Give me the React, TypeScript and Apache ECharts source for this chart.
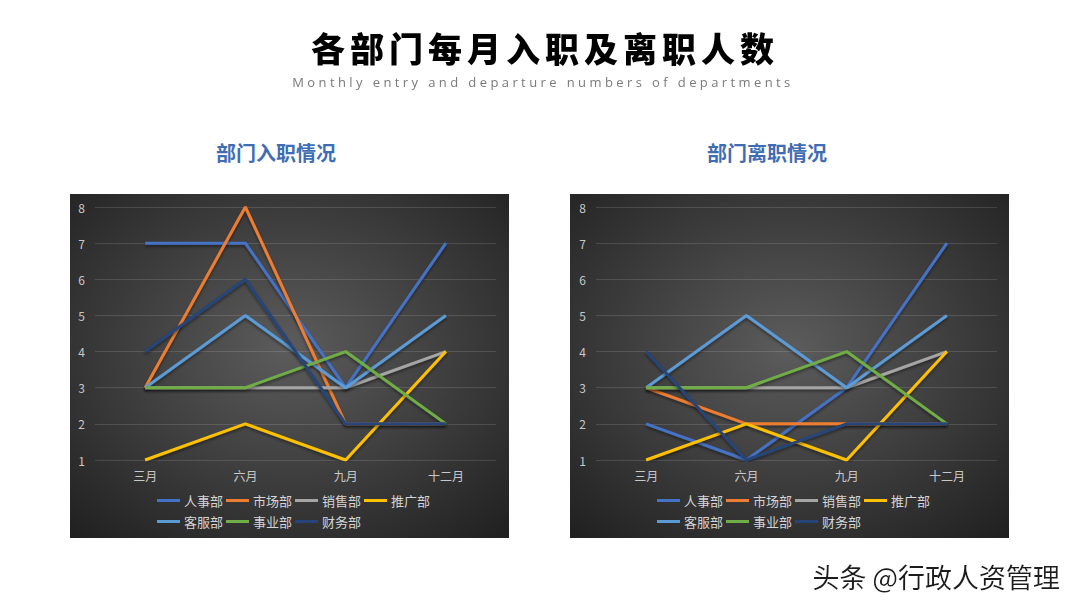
import React, { useEffect, useRef } from "react";
import * as echarts from "echarts";

const months = ["三月", "六月", "九月", "十二月"];
const departments = ["人事部", "市场部", "销售部", "推广部", "客服部", "事业部", "财务部"];
const colors = ["#4472C4", "#ED7D31", "#A5A5A5", "#FFC000", "#5B9BD5", "#70AD47", "#264478"];

// 入职 (entry)
const entryHR = [7, 7, 3, 7];
const entryMarket = [3, 8, 2, 2];
const entrySales = [3, 3, 3, 4];
const entryPromo = [1, 2, 1, 4];
const entryService = [3, 5, 3, 5];
const entryBusiness = [3, 3, 4, 2];
const entryFinance = [4, 6, 2, 2];

// 离职 (departure)
const leaveHR = [2, 1, 3, 7];
const leaveMarket = [3, 2, 2, 2];
const leaveSales = [3, 3, 3, 4];
const leavePromo = [1, 2, 1, 4];
const leaveService = [3, 5, 3, 5];
const leaveBusiness = [3, 3, 4, 2];
const leaveFinance = [4, 1, 2, 2];

const entryData = [entryHR, entryMarket, entrySales, entryPromo, entryService, entryBusiness, entryFinance];
const leaveData = [leaveHR, leaveMarket, leaveSales, leavePromo, leaveService, leaveBusiness, leaveFinance];

const FONT = "'Noto Sans CJK SC', 'Noto Sans', sans-serif";

export default function App() {
  const ref = useRef<HTMLDivElement>(null);

  useEffect(() => {
    if (!ref.current) return;
    const chart = echarts.init(ref.current, undefined, { renderer: "svg" });

    const mkBg = () =>
      new echarts.graphic.RadialGradient(0.5, 0.45, 0.75, [
        { offset: 0, color: "#5c5c5c" },
        { offset: 1, color: "#1f1f1f" },
      ]);

    const grids = [
      { left: 95, top: 207, width: 401, height: 253 },
      { left: 596, top: 207, width: 401, height: 253 },
    ];

    const xAxes = grids.map((_, i) => ({
      type: "category",
      gridIndex: i,
      data: months,
      boundaryGap: true,
      axisLine: { show: false },
      axisTick: { show: false },
      axisLabel: { color: "#c8c8c8", fontSize: 12, margin: 9, fontFamily: FONT },
    }));
    const yAxes = grids.map((_, i) => ({
      type: "value",
      gridIndex: i,
      min: 1,
      max: 8,
      interval: 1,
      axisLine: { show: false },
      axisTick: { show: false },
      axisLabel: { color: "#c8c8c8", fontSize: 12, margin: 10, fontFamily: FONT },
      splitLine: { lineStyle: { color: "rgba(255,255,255,0.13)", width: 1 } },
    }));

    const mkSeries = (data: number[][], gi: number) =>
      departments.map((name, k) => ({
        type: "line",
        name,
        xAxisIndex: gi,
        yAxisIndex: gi,
        data: data[k],
        showSymbol: false,
        symbol: "none",
        lineStyle: {
          width: 3,
          color: colors[k],
          shadowColor: "rgba(0,0,0,0.45)",
          shadowBlur: 3,
          shadowOffsetY: 2,
        },
        itemStyle: { color: colors[k] },
        z: 2 + k,
      }));

    const legendBase = {
      icon: "rect",
      itemWidth: 23,
      itemHeight: 3,
      itemGap: 3,
      selectedMode: false,
      orient: "horizontal",
      textStyle: { color: "#d4d4d4", fontSize: 13, fontFamily: FONT, padding: [0, 0, 0, -1] },
      padding: 0,
    };

    chart.setOption({
      animation: false,
      color: colors,
      textStyle: { fontFamily: FONT },
      grid: grids,
      xAxis: xAxes,
      yAxis: yAxes,
      legend: [
        { ...legendBase, left: 157, top: 494, data: departments.slice(0, 4) },
        { ...legendBase, left: 157, top: 515, data: departments.slice(4) },
        { ...legendBase, left: 657, top: 494, data: departments.slice(0, 4) },
        { ...legendBase, left: 657, top: 515, data: departments.slice(4) },
      ],
      graphic: [
        {
          type: "rect",
          left: 70,
          top: 194,
          shape: { width: 439, height: 344 },
          style: { fill: mkBg() },
          z: -10,
          silent: true,
        },
        {
          type: "rect",
          left: 570,
          top: 194,
          shape: { width: 439, height: 344 },
          style: { fill: mkBg() },
          z: -10,
          silent: true,
        },
        {
          type: "text",
          x: 276,
          y: 152,
          style: {
            text: "部门入职情况",
            fill: "#3F6DB3",
            font: `bold 20px ${FONT}`,
            align: "center",
            verticalAlign: "middle",
          },
        },
        {
          type: "text",
          x: 767,
          y: 152,
          style: {
            text: "部门离职情况",
            fill: "#3F6DB3",
            font: `bold 20px ${FONT}`,
            align: "center",
            verticalAlign: "middle",
          },
        },
        {
          type: "text",
          x: 1060,
          y: 576,
          style: {
            text: "头条 @行政人资管理",
            fill: "#1a1a1a",
            font: `27px ${FONT}`,
            align: "right",
            verticalAlign: "middle",
            textShadowColor: "rgba(255,255,255,0.9)",
            textShadowBlur: 1,
            textShadowOffsetX: 1,
            textShadowOffsetY: 1,
          },
        },
      ],
      series: [...mkSeries(entryData, 0), ...mkSeries(leaveData, 1)],
    });

    return () => chart.dispose();
  }, []);

  return (
    <div style={{ position: "fixed", left: 0, top: 0, width: 1080, height: 608, background: "#ffffff" }}>
      <div ref={ref} style={{ position: "absolute", left: 0, top: 0, width: 1080, height: 608 }} />
      <div
        style={{
          position: "absolute",
          left: 0,
          top: 25,
          width: 1080,
          textAlign: "center",
          fontFamily: FONT,
          fontWeight: 900,
          fontSize: 34,
          letterSpacing: 5,
          lineHeight: "46px",
          color: "#000",
          paddingLeft: 5,
        }}
      >
        各部门每月入职及离职人数
      </div>
      <div
        style={{
          position: "absolute",
          left: 0,
          top: 73,
          width: 1080,
          textAlign: "center",
          fontFamily: "'Open Sans', 'Noto Sans', sans-serif",
          fontSize: 13,
          letterSpacing: 3.4,
          lineHeight: "18px",
          color: "#7a7a7a",
          paddingLeft: 3,
        }}
      >
        Monthly entry and departure numbers of departments
      </div>
    </div>
  );
}
